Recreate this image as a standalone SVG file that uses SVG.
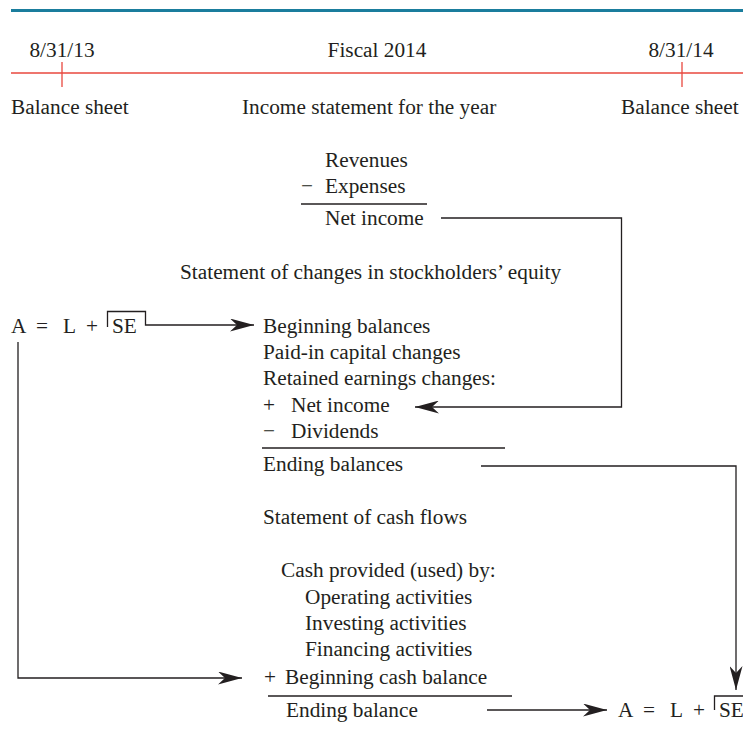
<svg xmlns="http://www.w3.org/2000/svg" width="743" height="743" viewBox="0 0 743 743">
<defs>
<style>
text{font-family:"Liberation Serif","Times New Roman",serif;font-size:21.3px;fill:#231f20}
.c{stroke:#231f20;stroke-width:1.3;fill:none}
.r{stroke:#e8473e;stroke-width:1.3;fill:none}
</style>
<marker id="ah" viewBox="0 0 24 13" refX="24" refY="6.5" markerWidth="24" markerHeight="13" markerUnits="userSpaceOnUse" orient="auto">
<path d="M0,0 L24,6.5 L0,13 L7,6.5 Z" fill="#231f20"/>
</marker>
</defs>
<rect width="743" height="743" fill="#fff"/>
<g id="timeline">
<line x1="11" y1="10.5" x2="743" y2="10.5" stroke="#1a7d9d" stroke-width="3"/>
<line class="r" x1="11" y1="73" x2="743" y2="73"/>
<line class="r" x1="62" y1="62" x2="62" y2="87"/>
<line class="r" x1="682" y1="62" x2="682" y2="87"/>
<text x="62" y="57" text-anchor="middle">8/31/13</text>
<text x="377" y="57" text-anchor="middle">Fiscal 2014</text>
<text x="681" y="57" text-anchor="middle">8/31/14</text>
<text x="11" y="114">Balance sheet</text>
<text x="242" y="114">Income statement for the year</text>
<text x="621" y="114">Balance sheet</text>
</g>
<g id="income">
<text x="325" y="167">Revenues</text>
<text x="301" y="193">−</text>
<text x="325" y="193">Expenses</text>
<line class="c" x1="301" y1="204" x2="427" y2="204"/>
<text x="325" y="225">Net income</text>
</g>
<g id="equity-title"><text x="180" y="279">Statement of changes in stockholders’ equity</text></g>
<g id="bs-start">
<text x="11" y="333">A</text><text x="36" y="333">=</text><text x="63" y="333">L</text><text x="86" y="333">+</text><text x="112" y="333">SE</text>
</g>
<g id="equity">
<text x="263" y="333">Beginning balances</text>
<text x="263" y="359">Paid-in capital changes</text>
<text x="263" y="385">Retained earnings changes:</text>
<text x="263" y="412">+</text>
<text x="291" y="412">Net income</text>
<text x="263" y="438">−</text>
<text x="291" y="438">Dividends</text>
<line class="c" x1="262" y1="448" x2="505" y2="448"/>
<text x="263" y="471">Ending balances</text>
</g>
<g id="cashflow">
<text x="263" y="524">Statement of cash flows</text>
<text x="281" y="577">Cash provided (used) by:</text>
<text x="305" y="604">Operating activities</text>
<text x="305" y="630">Investing activities</text>
<text x="305" y="656">Financing activities</text>
<text x="264" y="684">+</text>
<text x="285" y="684">Beginning cash balance</text>
<line class="c" x1="268" y1="696" x2="512" y2="696"/>
<text x="286" y="717">Ending balance</text>
</g>
<g id="bs-end">
<text x="618" y="717">A</text><text x="643" y="717">=</text><text x="670" y="717">L</text><text x="693" y="717">+</text><text x="719" y="717">SE</text>
</g>
<g id="connectors">
<path class="c" d="M107.5,327 V311.5 H145.5 V325 H254" marker-end="url(#ah)"/>
<path class="c" d="M441,218 H621.5 V407 H415" marker-end="url(#ah)"/>
<path class="c" d="M18,342 V678 H242" marker-end="url(#ah)"/>
<path class="c" d="M481,466 H736 V690" marker-end="url(#ah)"/>
<path class="c" d="M487,710 H607" marker-end="url(#ah)"/>
<path class="c" d="M714.5,710 V696 H743"/>
</g>
</svg>
